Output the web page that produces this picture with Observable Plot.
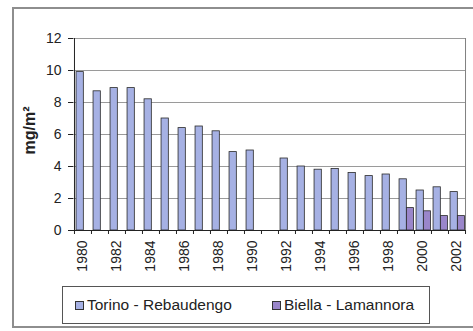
<!DOCTYPE html>
<html>
<head>
<meta charset="utf-8">
<script src="https://cdn.jsdelivr.net/npm/d3@7"></script>
<script src="https://cdn.jsdelivr.net/npm/@observablehq/plot@0.6"></script>
<style>
  body { margin: 0; background: #fff; font-family: "Liberation Sans", Arial, sans-serif; }
  #chart { position: relative; width: 473px; height: 331px; overflow: hidden; background: #fff; }
  #border { position: absolute; left: 12px; top: 7px; width: 480px; height: 321px;
            border: 2px solid #8e8e8e; box-sizing: border-box; }
  #plot { position: absolute; left: 0; top: 0; }
  #legend { position: absolute; left: 62px; top: 286px; width: 368px; height: 38px;
            border: 1px solid #555; box-sizing: border-box; background: #fff;
            font-size: 15.5px; color: #222; }
  .item { position: absolute; top: 0; height: 36px; display: flex; align-items: center; }
  .swatch { width: 7px; height: 7px; border: 1px solid #333; margin-right: 3px; }
</style>
</head>
<body>
<div id="chart">
  <div id="border"></div>
  <div id="plot"></div>
  <div id="legend"></div>
</div>
<script>
// Annual values, mg/m², one entry per year (null = no measurement)
const years = [1980, 1981, 1982, 1983, 1984, 1985, 1986, 1987, 1988, 1989, 1990, 1991,
               1992, 1993, 1994, 1995, 1996, 1997, 1998, 1999, 2000, 2001, 2002];
const torino = [9.9, 8.7, 8.9, 8.9, 8.2, 7.0, 6.4, 6.5, 6.2, 4.9, 5.0, null,
                4.5, 4.0, 3.8, 3.85, 3.6, 3.4, 3.5, 3.2, 2.5, 2.7, 2.4];
const biella = [null, null, null, null, null, null, null, null, null, null, null, null,
                null, null, null, null, null, null, null, 1.4, 1.2, 0.9, 0.9];
const seriesNames = ["Torino - Rebaudengo", "Biella - Lamannora"];
const yTicks = [0, 2, 4, 6, 8, 10, 12];
const xLabels = [1980, 1982, 1984, 1986, 1988, 1990, 1992, 1994, 1996, 1998, 2000, 2002];
const yLabel = "mg/m²";

const colors = ["#a6b1e4", "#9a86ca"];
const W = 473, H = 331, ML = 73, MR = 8, MT = 38, MB = 101;
const step = (W - ML - MR) / years.length;

const rowsT = years.map((year, i) => ({year, value: torino[i]}));
const rowsB = years.map((year, i) => ({year, value: biella[i]}));

const chart = Plot.plot({
  width: W, height: H,
  marginLeft: ML, marginRight: MR, marginTop: MT, marginBottom: MB,
  style: {fontFamily: '"Liberation Sans", Arial, sans-serif', fontSize: "14px", color: "#222", background: "transparent", overflow: "visible"},
  x: {domain: years, padding: 0, axis: null},
  y: {domain: [0, 12], axis: null},
  marks: [
    Plot.gridY(yTicks.filter(d => d > 0), {stroke: "#9a9a9a", strokeOpacity: 1}),
    Plot.barY(rowsT, {x: "year", y: "value", fill: colors[0], stroke: "#2a2a2a", strokeWidth: 0.8,
                      insetLeft: step * 0.12, insetRight: step * 0.45}),
    Plot.barY(rowsB, {x: "year", y: "value", fill: colors[1], stroke: "#2a2a2a", strokeWidth: 0.8,
                      insetLeft: step * 0.55, insetRight: step * 0.03}),
    // plot-area border: dark left axis and baseline, grey right edge
    Plot.ruleX([years[0]], {x: d => d, dx: -step / 2, y1: 0, y2: 12, stroke: "#222"}),
    Plot.ruleX([years[years.length - 1]], {x: d => d, dx: step / 2, y1: 0, y2: 12, stroke: "#808080"}),
    Plot.ruleY([0], {stroke: "#222"}),
    // category tick marks between the years
    Plot.ruleX(years, {x: d => d, dx: -step / 2, y1: 0, y2: 0, insetBottom: -4, stroke: "#222"}),
    Plot.ruleX([years[years.length - 1]], {x: d => d, dx: step / 2, y1: 0, y2: 0, insetBottom: -4, stroke: "#222"}),
    Plot.axisY(yTicks, {tickSize: 5, tickPadding: 7, fontSize: 14, stroke: "#222", label: null}),
    Plot.axisX(xLabels, {tickSize: 0, tickPadding: 10, tickRotate: -90, fontSize: 14,
                         tickFormat: d => String(d), label: null}),
    Plot.text([yLabel], {frameAnchor: "left", textAnchor: "middle", dx: -44, dy: -4, rotate: -90,
                         fontWeight: "bold", fontSize: 16, fill: "#222"})
  ]
});
document.getElementById("plot").appendChild(chart);

// legend
const legend = document.getElementById("legend");
const offsets = [12, 209];
seriesNames.forEach((name, i) => {
  const item = document.createElement("div");
  item.className = "item";
  item.style.left = offsets[i] + "px";
  const sw = document.createElement("span");
  sw.className = "swatch";
  sw.style.background = colors[i];
  const label = document.createElement("span");
  label.textContent = name;
  item.append(sw, label);
  legend.appendChild(item);
});
</script>
</body>
</html>
